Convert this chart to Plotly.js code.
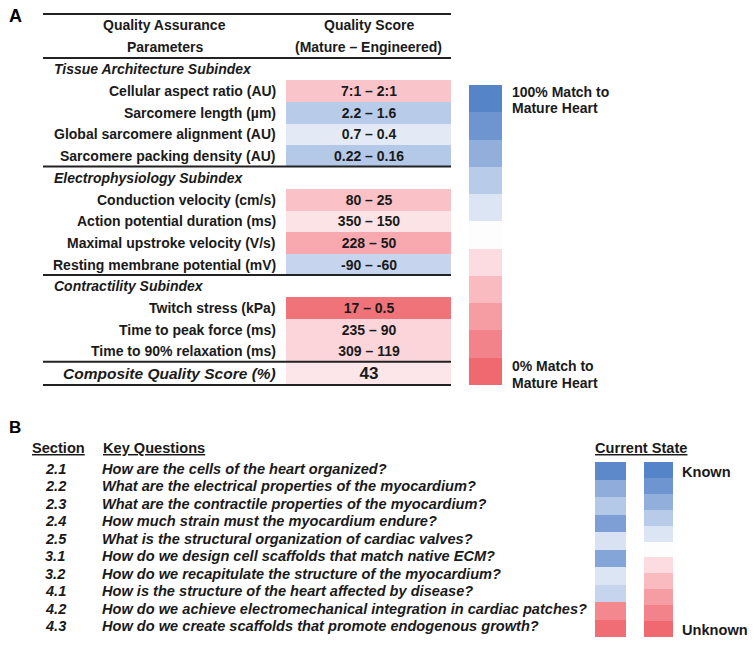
<!DOCTYPE html>
<html><head><meta charset="utf-8">
<script src="https://cdn.plot.ly/plotly-3.0.1.min.js"></script>
<style>html,body{margin:0;padding:0;background:#fff}</style>
</head><body>
<div id="chart" style="width:754px;height:647px"></div>
<script>
// ---------------- DATA ----------------
const headerParams = ['Quality Assurance', 'Parameters'];
const headerScore = ['Quality Score', '(Mature – Engineered)'];

const taTitle = 'Tissue Architecture Subindex';
const taParams = ['Cellular aspect ratio (AU)', 'Sarcomere length (µm)', 'Global sarcomere alignment (AU)', 'Sarcomere packing density (AU)'];
const taScores = ['7:1 – 2:1', '2.2 – 1.6', '0.7 – 0.4', '0.22 – 0.16'];
const taMatch = [33, 70, 58, 71];

const epTitle = 'Electrophysiology Subindex';
const epParams = ['Conduction velocity (cm/s)', 'Action potential duration (ms)', 'Maximal upstroke velocity (V/s)', 'Resting membrane potential (mV)'];
const epScores = ['80 – 25', '350 – 150', '228 – 50', '-90 – -60'];
const epMatch = [32, 42, 24, 66];

const ctTitle = 'Contractility Subindex';
const ctParams = ['Twitch stress (kPa)', 'Time to peak force (ms)', 'Time to 90% relaxation (ms)'];
const ctScores = ['17 – 0.5', '235 – 90', '309 – 119'];
const ctMatch = [4, 38, 38];

const compositeLabel = 'Composite Quality Score (%)';
const compositeScore = 43;

const legendLevels = [100, 90, 80, 70, 60, 50, 40, 30, 20, 10, 0];
const legendTop = ['100% Match to', 'Mature Heart'];
const legendBottom = ['0% Match to', 'Mature Heart'];

const sections = ['2.1', '2.2', '2.3', '2.4', '2.5', '3.1', '3.2', '4.1', '4.2', '4.3'];
const questions = [
  'How are the cells of the heart organized?',
  'What are the electrical properties of the myocardium?',
  'What are the contractile properties of the myocardium?',
  'How much strain must the myocardium endure?',
  'What is the structural organization of cardiac valves?',
  'How do we design cell scaffolds that match native ECM?',
  'How do we recapitulate the structure of the myocardium?',
  'How is the structure of the heart affected by disease?',
  'How do we achieve electromechanical integration in cardiac patches?',
  'How do we create scaffolds that promote endogenous growth?'
];
const currentState = [97, 81, 71, 86, 61, 84, 60, 66, 12, 2];
const stateScaleLevels = [100, 90, 80, 70, 60, 50, 40, 30, 20, 10, 0];

// ---------------- STYLE / GEOMETRY ----------------
const FA = 'Liberation Sans, Arial, sans-serif';
const FB = 'Liberation Sans Narrow, Arial Narrow, Liberation Sans, Arial, sans-serif';
const FBS = 14.6;
const INK = '#1a1a1a';
const colorSteps = ['#f06870','#f2838a','#f59da3','#f9bbc0','#fcdce0','#fdfdfe','#dce5f4','#b8cbe8','#92afdc','#6f95d0','#5584c8'];
const colorscale = colorSteps.map((c, i) => [i / 10, c]);

const A = {x0: 43, x1: 451, cellX0: 286, labelX: 278, subX: 52, rowTop: 58.5, rowH: 21.7, topLine: 14};
const L = {x0: 469, x1: 502, y0: 85, y1: 385, textX: 510};
const B = {secX: 43, qX: 100, rowTop: 462, rowH: 17.5, c1: [595, 626], c2: [644, 673], c2Bottom: 637};

// ---------------- BUILD TABLE A ----------------
const groups = [
  {title: taTitle, params: taParams, scores: taScores, match: taMatch},
  {title: epTitle, params: epParams, scores: epScores, match: epMatch},
  {title: ctTitle, params: ctParams, scores: ctScores, match: ctMatch}
];
const rowY = k => A.rowTop + A.rowH * k;
const annotations = [];
const shapes = [];
const zA = [], tA = [];
const ruleRows = [0];
let r = 0;
groups.forEach(g => {
  annotations.push({x: A.subX, y: rowY(r + 0.5), text: '<b><i>' + g.title + '</i></b>', xanchor: 'left', font: {family: FA, size: 14, color: INK}});
  zA.push([null]); tA.push(['']); r++;
  g.params.forEach((p, i) => {
    annotations.push({x: A.labelX, y: rowY(r + 0.5), text: '<b>' + p + '</b>', xanchor: 'right', font: {family: FA, size: 14, color: INK}});
    zA.push([g.match[i]]); tA.push([g.scores[i]]); r++;
  });
  ruleRows.push(r);
});
const compRow = r;
annotations.push({x: A.labelX, y: rowY(compRow + 0.5), text: '<b><i>' + compositeLabel + '</i></b>', xanchor: 'right', font: {family: FA, size: 15.5, color: INK}});
ruleRows.push(compRow + 1);

const yEdgesA = [];
for (let k = 0; k <= compRow; k++) yEdgesA.push(rowY(k));

// header
headerParams.forEach((t, i) => annotations.push({x: 164.5, y: 25 + 21.5 * i, text: '<b>' + t + '</b>', font: {family: FA, size: 14, color: INK}}));
headerScore.forEach((t, i) => annotations.push({x: 368.5, y: 25 + 21.5 * i, text: '<b>' + t + '</b>', font: {family: FA, size: 14, color: INK}}));

// rules
const hline = (y, w) => shapes.push({type: 'line', xref: 'x', yref: 'y', x0: A.x0, x1: A.x1, y0: y, y1: y, line: {color: '#222', width: w}});
hline(A.topLine, 2);
ruleRows.forEach((k, i) => hline(rowY(k) - (i === ruleRows.length - 1 ? -1 : 0.5), 2));

// panel letters
annotations.push({x: 7, y: 16, text: '<b>A</b>', xanchor: 'left', font: {family: FA, size: 18, color: '#000'}});
annotations.push({x: 7, y: 427.5, text: '<b>B</b>', xanchor: 'left', font: {family: FA, size: 17, color: '#000'}});

// legend text
const legRowH = (L.y1 - L.y0) / legendLevels.length;
legendTop.forEach((t, i) => annotations.push({x: L.textX, y: 91.5 + 16.5 * i, text: '<b>' + t + '</b>', xanchor: 'left', font: {family: FA, size: 14, color: INK}}));
legendBottom.forEach((t, i) => annotations.push({x: L.textX, y: 366 + 16.5 * i, text: '<b>' + t + '</b>', xanchor: 'left', font: {family: FA, size: 14, color: INK}}));

// ---------------- PANEL B ----------------
annotations.push({x: 30, y: 448, text: '<b><u>Section</u></b>', xanchor: 'left', font: {family: FB, size: FBS, color: INK}});
annotations.push({x: 101, y: 448, text: '<b><u>Key Questions</u></b>', xanchor: 'left', font: {family: FB, size: FBS, color: INK}});
annotations.push({x: 593, y: 448, text: '<b><u>Current State</u></b>', xanchor: 'left', font: {family: FB, size: FBS, color: INK}});
sections.forEach((s, i) => {
  const y = B.rowTop + B.rowH * (i + 0.5) - 2;
  annotations.push({x: B.secX, y, text: '<b><i>' + s + '</i></b>', xanchor: 'left', font: {family: FB, size: FBS, color: INK}});
  annotations.push({x: B.qX, y, text: '<b><i>' + questions[i] + '</i></b>', xanchor: 'left', font: {family: FB, size: FBS, color: INK}});
});
annotations.push({x: 680, y: 472, text: '<b>Known</b>', xanchor: 'left', font: {family: FB, size: FBS, color: INK}});
annotations.push({x: 680, y: 630, text: '<b>Unknown</b>', xanchor: 'left', font: {family: FB, size: FBS, color: INK}});

annotations.forEach(a => { a.xref = 'x'; a.yref = 'y'; a.showarrow = false; if (!a.yanchor) a.yanchor = 'middle'; });

const yEdgesB1 = currentState.map((_, i) => B.rowTop + B.rowH * i).concat([B.rowTop + B.rowH * currentState.length]);
const c2H = (B.c2Bottom - B.rowTop) / stateScaleLevels.length;
const yEdgesB2 = stateScaleLevels.map((_, i) => B.rowTop + c2H * i).concat([B.c2Bottom]);
const yEdgesL = legendLevels.map((_, i) => L.y0 + legRowH * i).concat([L.y1]);

const common = {type: 'heatmap', colorscale, zmin: 0, zmax: 100, showscale: false, hoverinfo: 'skip'};
const traces = [
  Object.assign({}, common, {x: [A.cellX0, A.x1], y: yEdgesA, z: zA, text: tA, texttemplate: '%{text}',
    textfont: {family: FA, size: 14, color: INK, weight: 'bold'}}),
  Object.assign({}, common, {x: [A.cellX0, A.x1], y: [rowY(compRow), rowY(compRow + 1)], z: [[compositeScore]], text: [[String(compositeScore)]], texttemplate: '%{text}',
    textfont: {family: FA, size: 17, color: INK, weight: 'bold'}}),
  Object.assign({}, common, {x: [L.x0, L.x1], y: yEdgesL, z: legendLevels.map(v => [v])}),
  Object.assign({}, common, {x: B.c1, y: yEdgesB1, z: currentState.map(v => [v])}),
  Object.assign({}, common, {x: B.c2, y: yEdgesB2, z: stateScaleLevels.map(v => [v])})
];

const layout = {
  width: 754, height: 647,
  margin: {l: 0, r: 0, t: 0, b: 0},
  paper_bgcolor: '#fff', plot_bgcolor: '#fff',
  xaxis: {range: [0, 754], visible: false, fixedrange: true},
  yaxis: {range: [647, 0], visible: false, fixedrange: true},
  showlegend: false,
  annotations, shapes
};
Plotly.newPlot('chart', traces, layout, {staticPlot: true, displayModeBar: false});
</script>
</body></html>
